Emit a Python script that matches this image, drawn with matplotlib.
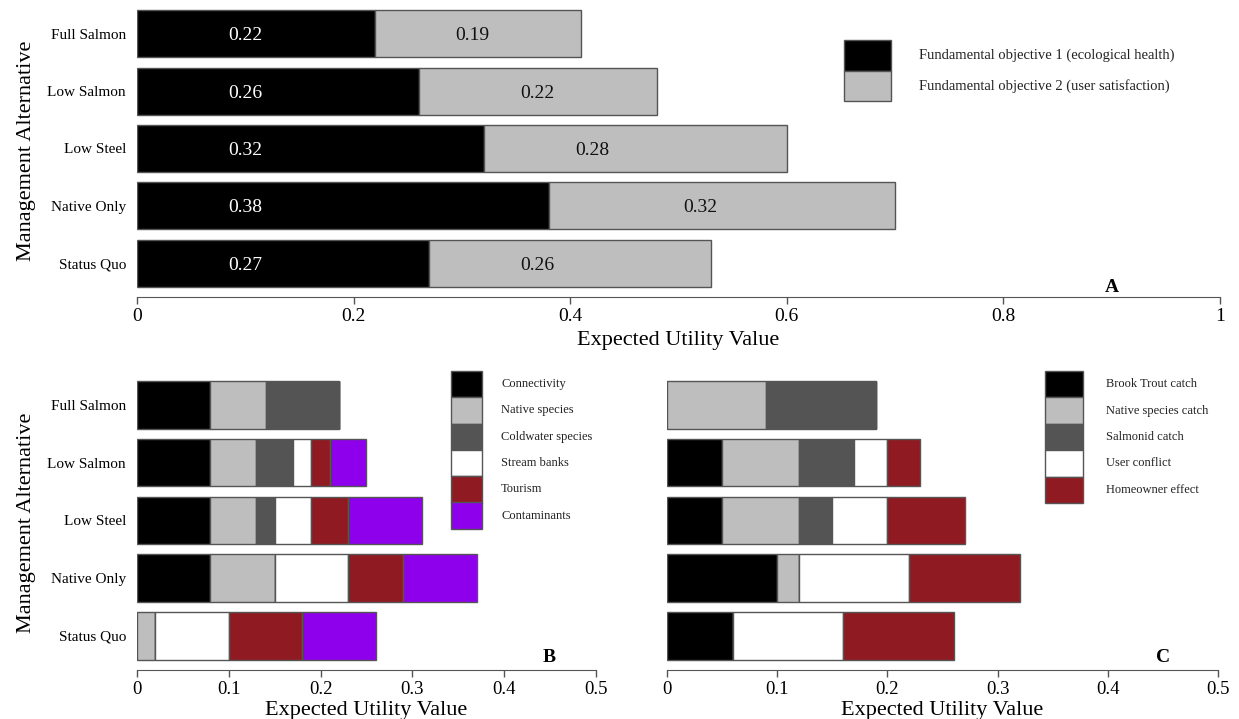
import numpy as np
import matplotlib
matplotlib.use('Agg')
import matplotlib.pyplot as plt
from matplotlib.patches import Rectangle

plt.rcParams['font.family'] = ['Liberation Serif', 'DejaVu Serif']

alternatives = ['Full Salmon', 'Low Salmon', 'Low Steel', 'Native Only', 'Status Quo']

# panel A: fundamental objectives
fo1 = [0.22, 0.26, 0.32, 0.38, 0.27]
fo2 = [0.19, 0.22, 0.28, 0.32, 0.26]
fo_names = ['Fundamental objective 1 (ecological health)',
            'Fundamental objective 2 (user satisfaction)']

# panel B: ecological health sub-objectives
eco_names = ['Connectivity', 'Native species', 'Coldwater species',
             'Stream banks', 'Tourism', 'Contaminants']
connectivity = [0.08, 0.08, 0.08, 0.08, 0.00]
native_species = [0.06, 0.05, 0.05, 0.07, 0.02]
coldwater = [0.08, 0.04, 0.02, 0.00, 0.00]
stream_banks = [0.00, 0.02, 0.04, 0.08, 0.08]
tourism = [0.00, 0.02, 0.04, 0.06, 0.08]
contaminants = [0.00, 0.04, 0.08, 0.08, 0.08]

# panel C: user satisfaction sub-objectives
user_names = ['Brook Trout catch', 'Native species catch', 'Salmonid catch',
              'User conflict', 'Homeowner effect']
brook_trout = [0.00, 0.05, 0.05, 0.10, 0.06]
native_catch = [0.09, 0.07, 0.07, 0.02, 0.00]
salmonid = [0.10, 0.05, 0.03, 0.00, 0.00]
user_conflict = [0.00, 0.03, 0.05, 0.10, 0.10]
homeowner = [0.00, 0.03, 0.07, 0.10, 0.10]

colors = ['#000000', '#bebebe', '#545454', '#ffffff', '#8f1a21', '#8e00ec']
edge = '#555555'

W, H = 1239, 719
fig = plt.figure(figsize=(W / 100, H / 100), dpi=100)


def px_rect(l, t, r, b):
    return [l / W, 1 - b / H, (r - l) / W, (b - t) / H]


def stacked(ax, series, xmax, ticks):
    y = np.arange(len(alternatives))[::-1]
    left = np.zeros(len(alternatives))
    for vals, c in zip(series, colors):
        ax.barh(y, vals, left=left, height=0.82, color=c,
                edgecolor=edge, linewidth=1)
        left += np.array(vals)
    ax.set_xlim(0, xmax)
    ax.set_ylim(-0.59, 4.5)
    ax.set_yticks(y)
    ax.set_xticks(ticks)
    ax.set_xticklabels(['%g' % t for t in ticks])
    for s in ['top', 'right', 'left']:
        ax.spines[s].set_visible(False)
    ax.spines['bottom'].set_color(edge)
    ax.tick_params(axis='x', length=5, width=1, color=edge, pad=3)
    ax.tick_params(axis='y', length=0, pad=8, labelsize=11)
    return y


def legend_boxes(x0, x1, y0, row_h, names, fs, tx):
    for i, name in enumerate(names):
        top = y0 + i * row_h
        fig.add_artist(Rectangle((x0 / W, 1 - (top + row_h) / H),
                                 (x1 - x0) / W, row_h / H,
                                 transform=fig.transFigure,
                                 facecolor=colors[i], edgecolor=edge, lw=1))
        fig.text(tx / W, 1 - (top + row_h / 2) / H, name, fontsize=fs,
                 va='center', ha='left', color='#222222')


# ---- A ----
axA = fig.add_axes(px_rect(137, 5, 1220, 297))
y = stacked(axA, [fo1, fo2], 1.0, [0, 0.2, 0.4, 0.6, 0.8, 1])
axA.set_yticklabels(alternatives)
axA.tick_params(axis='x', labelsize=14)
axA.set_xlabel('Expected Utility Value', fontsize=16, labelpad=4)
axA.set_ylabel('Management Alternative', fontsize=16)
axA.yaxis.set_label_coords(-0.093, 0.5)
grey_label_x = [0.31, 0.37, 0.42, 0.52, 0.37]
for yi, a, b, gx in zip(y, fo1, fo2, grey_label_x):
    axA.text(0.10, yi, '%.2f' % a, color='white', fontsize=14,
             ha='center', va='center_baseline')
    axA.text(gx, yi, '%.2f' % b, color='#111111', fontsize=14,
             ha='center', va='center_baseline')
axA.text(0.90, 0.034, 'A', transform=axA.transAxes, fontsize=14,
         fontweight='bold', ha='center', va='center')
legend_boxes(844, 891, 40, 30.5, fo_names, 10.5, 919)

# ---- B ----
axB = fig.add_axes(px_rect(137, 376, 596, 670))
stacked(axB, [connectivity, native_species, coldwater, stream_banks,
              tourism, contaminants], 0.5, [0, 0.1, 0.2, 0.3, 0.4, 0.5])
axB.set_yticklabels(alternatives)
axB.tick_params(axis='x', labelsize=13.5)
axB.set_xlabel('Expected Utility Value', fontsize=16, labelpad=2)
axB.set_ylabel('Management Alternative', fontsize=16)
axB.yaxis.set_label_coords(-0.2195, 0.5)
axB.text(0.898, 0.044, 'B', transform=axB.transAxes, fontsize=14,
         fontweight='bold', ha='center', va='center')
legend_boxes(451, 482, 371, 26.3, eco_names, 9, 501)

# ---- C ----
axC = fig.add_axes(px_rect(667, 376, 1218, 670))
stacked(axC, [brook_trout, native_catch, salmonid, user_conflict,
              homeowner], 0.5, [0, 0.1, 0.2, 0.3, 0.4, 0.5])
axC.set_yticklabels([])
axC.tick_params(axis='x', labelsize=13.5)
axC.set_xlabel('Expected Utility Value', fontsize=16, labelpad=2)
axC.text(0.90, 0.044, 'C', transform=axC.transAxes, fontsize=14,
         fontweight='bold', ha='center', va='center')
legend_boxes(1045, 1083, 371, 26.4, user_names, 9, 1106)

fig.savefig('out.png', dpi=100)
